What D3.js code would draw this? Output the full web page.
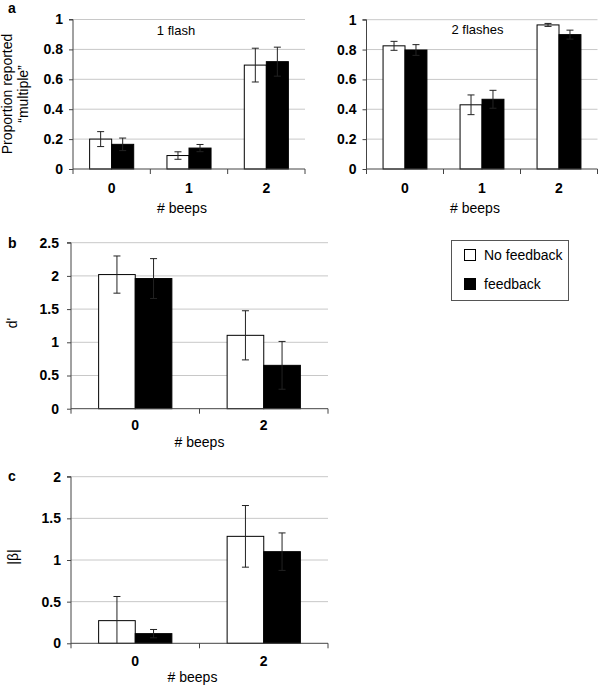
<!DOCTYPE html>
<html>
<head>
<meta charset="utf-8">
<script src="https://cdn.jsdelivr.net/npm/d3@7"></script>
<style>
  body { margin: 0; background: #fff; }
  svg { display: block; font-family: "Liberation Sans", Arial, sans-serif; }
</style>
</head>
<body>
<svg id="chart" width="600" height="686"></svg>
<script>
// data
var seriesNames = ["No feedback", "feedback"];
var beepsA = ["0", "1", "2"];
var beepsBC = ["0", "2"];

var oneFlashNoFb = [0.20, 0.09, 0.695];
var oneFlashNoFbErr = [0.05, 0.025, 0.113];
var oneFlashFb = [0.165, 0.14, 0.718];
var oneFlashFbErr = [0.042, 0.024, 0.097];

var twoFlashNoFb = [0.825, 0.43, 0.965];
var twoFlashNoFbErr = [0.03, 0.066, 0.01];
var twoFlashFb = [0.797, 0.467, 0.90];
var twoFlashFbErr = [0.036, 0.06, 0.03];

var dPrimeNoFb = [2.02, 1.105];
var dPrimeNoFbErr = [0.28, 0.37];
var dPrimeFb = [1.96, 0.653];
var dPrimeFbErr = [0.30, 0.36];

var betaNoFb = [0.272, 1.284];
var betaNoFbErr = [0.29, 0.37];
var betaFb = [0.116, 1.10];
var betaFbErr = [0.05, 0.225];

var ticksA = [0, 0.2, 0.4, 0.6, 0.8, 1];
var ticksB = [0, 0.5, 1, 1.5, 2, 2.5];
var ticksC = [0, 0.5, 1, 1.5, 2];

var svg = d3.select("#chart");
var fills = ["#fff", "#000"];

function drawPanel(p) {
  var g = svg.append("g");
  var x = d3.scaleBand().domain(p.cats).range([p.x0, p.x1])
    .paddingInner(0.43).paddingOuter(0.215);
  var xs = d3.scaleBand().domain(seriesNames).range([0, x.bandwidth()]);
  var y = d3.scaleLinear().domain([0, p.max]).range([p.y0, p.y1]);

  // gridlines
  g.selectAll(".grid").data(p.ticks.filter(function(t){ return t > 0; }))
    .enter().append("line")
    .attr("x1", p.x0).attr("x2", p.x1)
    .attr("y1", function(d){ return y(d); }).attr("y2", function(d){ return y(d); })
    .attr("stroke", "#c8c8c8").attr("stroke-width", 1);

  // y axis
  var yAxis = d3.axisLeft(y).tickValues(p.ticks).tickSize(4).tickPadding(p.pad || 6)
    .tickFormat(function(d){ return String(+d.toFixed(1)); });
  var ya = g.append("g").attr("transform", "translate(" + p.x0 + ",0)").call(yAxis);
  ya.select(".domain").attr("stroke", "#444").attr("d", "M-4," + y(p.max) + "H0V" + (p.y0 + 5));
  ya.selectAll(".tick line").attr("stroke", "#444");
  ya.selectAll("text").attr("font-size", 14).attr("font-weight", "bold").attr("fill", "#000")
    .attr("font-family", "Liberation Sans, Arial, sans-serif");

  // bars
  var rows = [];
  p.cats.forEach(function(c, i) {
    p.vals.forEach(function(v, j) {
      rows.push({cat: c, s: seriesNames[j], v: v[i], e: p.errs[j][i], j: j});
    });
  });
  g.selectAll(".bar").data(rows).enter().append("rect")
    .attr("x", function(d){ return x(d.cat) + xs(d.s); })
    .attr("y", function(d){ return y(d.v); })
    .attr("width", xs.bandwidth())
    .attr("height", function(d){ return y(0) - y(d.v); })
    .attr("fill", function(d){ return fills[d.j]; })
    .attr("stroke", "#000").attr("stroke-width", 1);

  // error bars
  var eb = g.selectAll(".err").data(rows).enter().append("g")
    .attr("transform", function(d){ return "translate(" + (x(d.cat) + xs(d.s) + xs.bandwidth() / 2) + ",0)"; });
  eb.append("line").attr("x1", 0).attr("x2", 0)
    .attr("y1", function(d){ return y(Math.max(0, d.v - d.e)); })
    .attr("y2", function(d){ return y(d.v + d.e); })
    .attr("stroke", "#222");
  eb.append("line").attr("x1", -3.5).attr("x2", 3.5)
    .attr("y1", function(d){ return y(d.v + d.e); }).attr("y2", function(d){ return y(d.v + d.e); })
    .attr("stroke", "#222");
  eb.filter(function(d){ return d.v - d.e > 0; }).append("line").attr("x1", -3.5).attr("x2", 3.5)
    .attr("y1", function(d){ return y(d.v - d.e); }).attr("y2", function(d){ return y(d.v - d.e); })
    .attr("stroke", "#222");

  // x axis: ticks sit between categories
  var step = x.step();
  var bounds = d3.range(p.cats.length + 1).map(function(i){ return p.x0 + i * step; });
  g.append("line").attr("x1", p.x0).attr("x2", p.x1).attr("y1", y(0)).attr("y2", y(0))
    .attr("stroke", "#444");
  g.selectAll(".xt").data(bounds.slice(1)).enter().append("line")
    .attr("x1", function(d){ return d; }).attr("x2", function(d){ return d; })
    .attr("y1", y(0)).attr("y2", y(0) + 5).attr("stroke", "#444");
  g.selectAll(".xl").data(p.cats).enter().append("text")
    .attr("x", function(d){ return x(d) + x.bandwidth() / 2; })
    .attr("y", p.labelY)
    .attr("text-anchor", "middle").attr("font-size", 14).attr("font-weight", "bold")
    .text(function(d){ return d; });
  g.append("text").attr("x", (p.x0 + p.x1) / 2 + (p.titleShift || 0)).attr("y", p.titleY)
    .attr("text-anchor", "middle").attr("font-size", 14).text("# beeps");

  if (p.note) {
    g.append("text").attr("x", p.note[1]).attr("y", p.note[2])
      .attr("text-anchor", "middle").attr("font-size", 13).text(p.note[0]);
  }
}

drawPanel({cats: beepsA, x0: 73, x1: 305, y0: 169, y1: 19.5, max: 1, ticks: ticksA, pad: 6,
  vals: [oneFlashNoFb, oneFlashFb], errs: [oneFlashNoFbErr, oneFlashFbErr],
  labelY: 193, titleY: 213, titleShift: -7, note: ["1 flash", 176, 35]});
drawPanel({cats: beepsA, x0: 366.5, x1: 597.5, y0: 169, y1: 19.7, max: 1, ticks: ticksA, pad: 6,
  vals: [twoFlashNoFb, twoFlashFb], errs: [twoFlashNoFbErr, twoFlashFbErr],
  labelY: 193, titleY: 213, titleShift: -7, note: ["2 flashes", 477.5, 34]});
drawPanel({cats: beepsBC, x0: 71, x1: 328, y0: 408.7, y1: 242.7, max: 2.5, ticks: ticksB, pad: 8,
  vals: [dPrimeNoFb, dPrimeFb], errs: [dPrimeNoFbErr, dPrimeFbErr],
  labelY: 430, titleY: 447});
drawPanel({cats: beepsBC, x0: 71, x1: 328, y0: 643.3, y1: 476.7, max: 2, ticks: ticksC, pad: 6,
  vals: [betaNoFb, betaFb], errs: [betaNoFbErr, betaFbErr],
  labelY: 666, titleY: 682, titleShift: -7});

// panel letters
[["a", 8, 13], ["b", 8, 248], ["c", 8, 481]].forEach(function(l) {
  svg.append("text").attr("x", l[1]).attr("y", l[2]).attr("font-size", 14)
    .attr("font-weight", "bold").text(l[0]);
});

// y titles
function yTitle(txt, cx, cy) {
  svg.append("text").attr("transform", "translate(" + cx + "," + cy + ") rotate(-90)")
    .attr("text-anchor", "middle").attr("font-size", 14).text(txt);
}
yTitle("Proportion reported", 12, 94);
yTitle("\u201cmultiple\u201d", 28, 94);
yTitle("d'", 17, 323);
yTitle("|\u03b2|", 18, 557);

// legend
var leg = svg.append("g");
leg.append("rect").attr("x", 451.5).attr("y", 240.5).attr("width", 117).attr("height", 60)
  .attr("fill", "none").attr("stroke", "#555");
seriesNames.forEach(function(name, i) {
  leg.append("rect").attr("x", 464.5).attr("y", 249.5 + i * 29).attr("width", 11).attr("height", 11)
    .attr("fill", fills[i]).attr("stroke", "#000");
  leg.append("text").attr("x", 484).attr("y", 259.5 + i * 29).attr("font-size", 14).text(name);
});
</script>
</body>
</html>
